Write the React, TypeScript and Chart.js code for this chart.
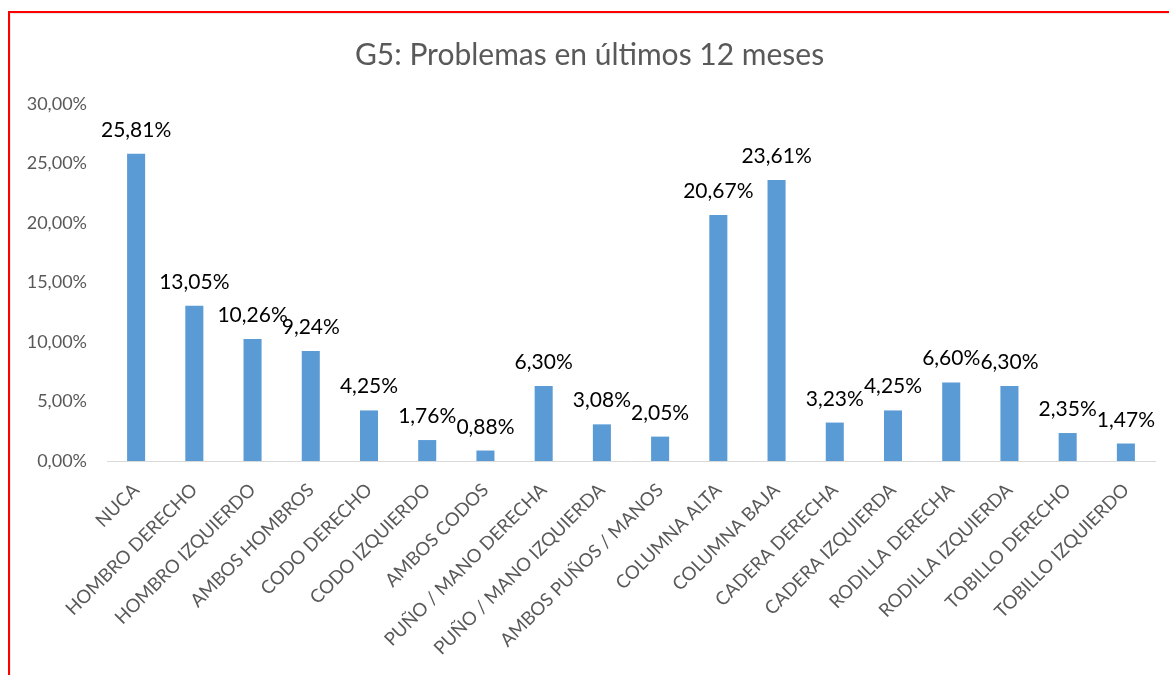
import React, { useEffect, useRef } from "react";
import { Chart, registerables } from "chart.js";

Chart.register(...registerables);

const categories = [
  "NUCA",
  "HOMBRO DERECHO",
  "HOMBRO IZQUIERDO",
  "AMBOS HOMBROS",
  "CODO DERECHO",
  "CODO IZQUIERDO",
  "AMBOS CODOS",
  "PUÑO / MANO DERECHA",
  "PUÑO / MANO IZQUIERDA",
  "AMBOS PUÑOS / MANOS",
  "COLUMNA ALTA",
  "COLUMNA BAJA",
  "CADERA DERECHA",
  "CADERA IZQUIERDA",
  "RODILLA DERECHA",
  "RODILLA IZQUIERDA",
  "TOBILLO DERECHO",
  "TOBILLO IZQUIERDO",
];

const values = [
  25.81, 13.05, 10.26, 9.24, 4.25, 1.76, 0.88, 6.3, 3.08, 2.05, 20.67, 23.61,
  3.23, 4.25, 6.6, 6.3, 2.35, 1.47,
];

const yTicks = [0, 5, 10, 15, 20, 25, 30];

const titleText = "G5: Problemas en últimos 12 meses";

const fmt = (v: number) => v.toFixed(2).replace(".", ",") + "%";

const FONT = "Lato, 'Open Sans', sans-serif";

const dataLabelPlugin = {
  id: "dataLabels",
  afterDatasetsDraw(chart: any) {
    const ctx = chart.ctx;
    const meta = chart.getDatasetMeta(0);
    ctx.save();
    ctx.font = `21px ${FONT}`;
    ctx.fillStyle = "#000000";
    ctx.textAlign = "center";
    ctx.textBaseline = "alphabetic";
    meta.data.forEach((bar: any, i: number) => {
      const v = chart.data.datasets[0].data[i];
      ctx.fillText(fmt(v), bar.x, bar.y - 17);
    });
    ctx.restore();
  },
};

export default function App() {
  const ref = useRef<HTMLCanvasElement>(null);

  useEffect(() => {
    if (!ref.current) return;
    const chart = new Chart(ref.current, {
      type: "bar",
      data: {
        labels: categories,
        datasets: [
          {
            data: values,
            backgroundColor: "#5B9BD5",
            borderWidth: 0,
            categoryPercentage: 1,
            barPercentage: 0.31,
          },
        ],
      },
      options: {
        animation: false,
        responsive: false,
        maintainAspectRatio: false,
        layout: { padding: { left: 24, right: 14, top: 37, bottom: 0 } },
        plugins: {
          legend: { display: false },
          tooltip: { enabled: false },
          title: {
            display: true,
            text: titleText,
            color: "#595959",
            font: { family: FONT, size: 30, weight: "normal", lineHeight: 1.2 },
            padding: { top: 0, bottom: 31 },
          },
        },
        scales: {
          x: {
            grid: { display: false },
            border: { display: true, color: "#D9D9D9", width: 1 },
            ticks: {
              autoSkip: false,
              maxRotation: 45,
              minRotation: 45,
              color: "#595959",
              font: { family: FONT, size: 18.5 },
              padding: 10,
            },
            afterFit: (scale: any) => {
              scale.height = 214;
            },
          },
          y: {
            min: 0,
            max: 30,
            afterBuildTicks: (scale: any) => {
              scale.ticks = yTicks.map((v) => ({ value: v }));
            },
            grid: { display: false },
            border: { display: false },
            ticks: {
              color: "#595959",
              font: { family: FONT, size: 18 },
              padding: 12,
              callback: (v: any) => fmt(Number(v)),
            },
            afterFit: (scale: any) => {
              scale.width = 83;
            },
          },
        },
      },
      plugins: [dataLabelPlugin],
    });
    return () => chart.destroy();
  }, []);

  return (
    <div
      style={{
        position: "absolute",
        left: 0,
        top: 0,
        width: 1169,
        height: 675,
        background: "#ffffff",
        overflow: "hidden",
      }}
    >
      <canvas
        ref={ref}
        width={1169}
        height={675}
        style={{ position: "absolute", left: 0, top: 0, width: 1169, height: 675 }}
      />
      <div
        style={{
          position: "absolute",
          left: 8,
          top: 11,
          width: 1161,
          height: 664,
          borderTop: "2px solid #FF0000",
          borderLeft: "2px solid #FF0000",
          boxSizing: "border-box",
          pointerEvents: "none",
        }}
      >
        <div
          style={{
            position: "absolute",
            left: 0,
            top: 0,
            right: 0,
            bottom: 0,
            borderTop: "1px solid #E6E6E6",
            borderLeft: "1px solid #EDEDED",
          }}
        />
      </div>
    </div>
  );
}
